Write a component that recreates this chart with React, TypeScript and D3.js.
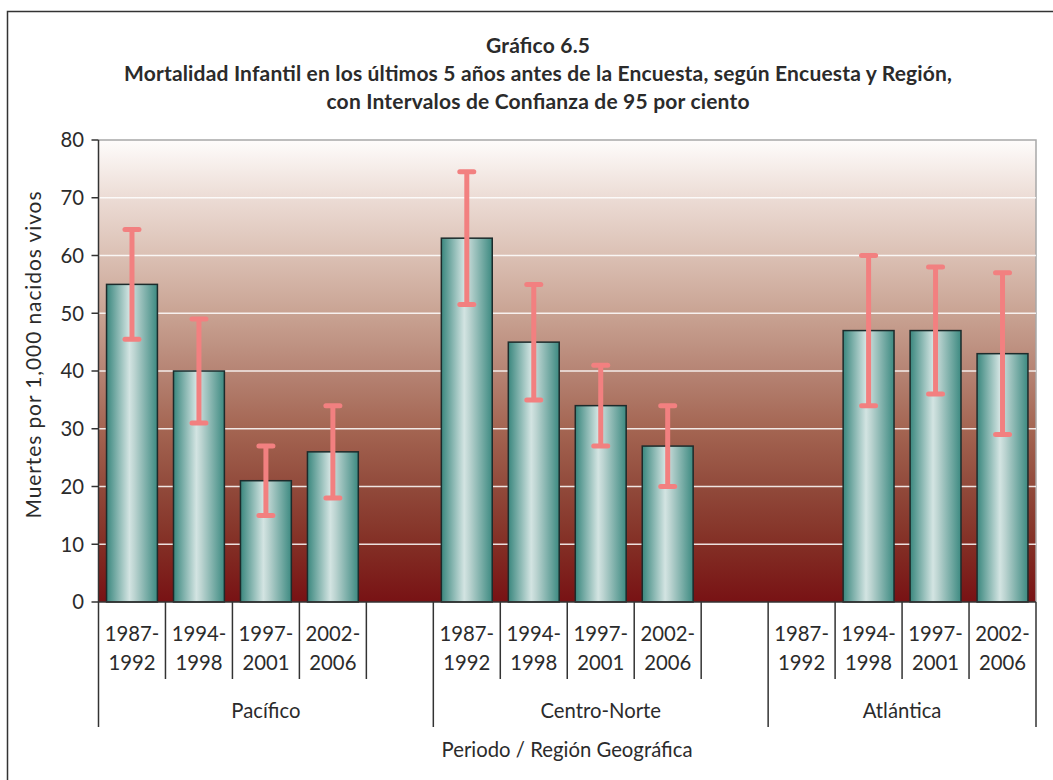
import React from "react";
import * as d3 from "d3";

const titleLines = [
  "Gráfico 6.5",
  "Mortalidad Infantil en los últimos 5 años antes de la Encuesta, según Encuesta y Región,",
  "con Intervalos de Confianza de 95 por ciento",
];
const titleWidths = [104, 828, 423];
const regions = ["Pacífico", "Centro-Norte", "Atlántica"];
const periods = ["1987-1992", "1994-1998", "1997-2001", "2002-2006"];
const pacificoValues = [55, 40, 21, 26];
const pacificoLow = [45.5, 31, 15, 18];
const pacificoHigh = [64.5, 49, 27, 34];
const centroNorteValues = [63, 45, 34, 27];
const centroNorteLow = [51.5, 35, 27, 20];
const centroNorteHigh = [74.5, 55, 41, 34];
const atlanticaValues = [null, 47, 47, 43];
const atlanticaLow = [null, 34, 36, 29];
const atlanticaHigh = [null, 60, 58, 57];
const yTicks = [0, 10, 20, 30, 40, 50, 60, 70, 80];
const yTitle = "Muertes por 1,000 nacidos vivos";
const xTitle = "Periodo / Región Geográfica";

type Slot = {
  key: string;
  region: string;
  period: string | null;
  value: number | null;
  low: number | null;
  high: number | null;
};

const regionData = [
  { name: regions[0], v: pacificoValues, lo: pacificoLow, hi: pacificoHigh, blank: true },
  { name: regions[1], v: centroNorteValues, lo: centroNorteLow, hi: centroNorteHigh, blank: true },
  { name: regions[2], v: atlanticaValues, lo: atlanticaLow, hi: atlanticaHigh, blank: false },
];

const slots: Slot[] = [];
regionData.forEach((r) => {
  periods.forEach((p, i) => {
    slots.push({ key: r.name + "|" + p, region: r.name, period: p, value: r.v[i], low: r.lo[i], high: r.hi[i] });
  });
  if (r.blank) slots.push({ key: r.name + "|blank", region: r.name, period: null, value: null, low: null, high: null });
});

const W = 1053;
const H = 780;
const plotLeft = 98.5;
const plotRight = 1036;
const plotTop = 140;
const plotBottom = 602;
const FONT = "Lato, 'Open Sans', sans-serif";
const TEXT = "#2b2b2b";
const LABEL_SIZE = 20.3;

export default function App() {
  const y = d3.scaleLinear().domain([0, 80]).range([plotBottom, plotTop]);
  const x = d3
    .scaleBand<string>()
    .domain(slots.map((s) => s.key))
    .range([plotLeft, plotRight])
    .paddingInner(0.24)
    .paddingOuter(0.12);
  const step = x.step();
  const bw = x.bandwidth();
  const slotStart = (k: string) => (x(k) as number) - step * 0.12;

  const boundaries: { x: number; long: boolean }[] = [];
  slots.forEach((s, i) => {
    const prev = i > 0 ? slots[i - 1] : null;
    boundaries.push({ x: slotStart(s.key), long: !prev || prev.region !== s.region });
  });
  boundaries.push({ x: slotStart(slots[slots.length - 1].key) + step, long: true });

  const groupCenters = regions.map((r) => {
    const rs = slots.filter((s) => s.region === r);
    const a = slotStart(rs[0].key);
    const b = slotStart(rs[rs.length - 1].key) + step;
    return { r, cx: (a + b) / 2 };
  });

  const errColor = "#f28080";

  return (
    <svg width={W} height={H} style={{ position: "absolute", left: 0, top: 0, background: "#fff" }} fontFamily={FONT}>
      <defs>
        <linearGradient id="bg" x1="0" y1="0" x2="0" y2="1">
          <stop offset="0" stopColor="#fefcfb" />
          <stop offset="0.125" stopColor="#ecdcd5" />
          <stop offset="0.25" stopColor="#dbc0b4" />
          <stop offset="0.375" stopColor="#c9a393" />
          <stop offset="0.5" stopColor="#b68474" />
          <stop offset="0.625" stopColor="#a46552" />
          <stop offset="0.75" stopColor="#914a3b" />
          <stop offset="0.875" stopColor="#832f25" />
          <stop offset="1" stopColor="#781214" />
        </linearGradient>
        <linearGradient id="bar" x1="0" y1="0" x2="1" y2="0">
          <stop offset="0" stopColor="#3a877e" />
          <stop offset="0.45" stopColor="#d3e4e2" />
          <stop offset="0.55" stopColor="#bcd4d1" />
          <stop offset="1" stopColor="#3d8a81" />
        </linearGradient>
      </defs>

      <rect x={7.5} y={11.5} width={1100} height={900} fill="none" stroke="#333" strokeWidth={1.5} />

      {titleLines.map((t, i) => (
        <text
          key={i}
          x={538}
          y={53 + i * 28}
          textAnchor="middle"
          fontWeight="bold"
          fontSize={21}
          fill={TEXT}
          textLength={titleWidths[i]}
          lengthAdjust="spacing"
        >
          {t}
        </text>
      ))}

      <rect x={plotLeft} y={plotTop} width={plotRight - plotLeft} height={plotBottom - plotTop} fill="url(#bg)" />
      <path d={`M${plotLeft},${plotTop}H${plotRight}V${plotBottom}`} fill="none" stroke="#a8a8a8" strokeWidth={1.5} />

      {yTicks
        .filter((t) => t > 0 && t < 80)
        .map((t) => (
          <line key={t} x1={plotLeft} x2={plotRight} y1={y(t)} y2={y(t)} stroke="#fff" strokeOpacity={0.85} strokeWidth={1.5} />
        ))}

      {slots
        .filter((s) => s.value !== null)
        .map((s) => (
          <rect
            key={s.key}
            x={x(s.key)}
            y={y(s.value as number)}
            width={bw}
            height={plotBottom - y(s.value as number)}
            fill="url(#bar)"
            stroke="#1c2b2b"
            strokeWidth={1.5}
          />
        ))}

      {slots
        .filter((s) => s.value !== null)
        .map((s) => {
          const cx = (x(s.key) as number) + bw / 2;
          return (
            <g key={s.key} stroke={errColor} strokeWidth={5}>
              <line x1={cx} x2={cx} y1={y(s.low as number)} y2={y(s.high as number)} />
              <line x1={cx - 7} x2={cx + 7} y1={y(s.high as number)} y2={y(s.high as number)} strokeLinecap="round" />
              <line x1={cx - 7} x2={cx + 7} y1={y(s.low as number)} y2={y(s.low as number)} strokeLinecap="round" />
            </g>
          );
        })}

      <line x1={plotLeft} x2={plotLeft} y1={plotTop} y2={plotBottom} stroke="#333" strokeWidth={1.5} />
      <line x1={plotLeft} x2={plotRight} y1={plotBottom} y2={plotBottom} stroke="#333" strokeWidth={1.5} />
      {yTicks.map((t) => (
        <g key={t}>
          <line x1={plotLeft - 7} x2={plotLeft} y1={y(t)} y2={y(t)} stroke="#333" strokeWidth={1.5} />
          <text x={84} y={y(t)} dy="0.36em" textAnchor="end" fontSize={LABEL_SIZE} fill={TEXT}>
            {t}
          </text>
        </g>
      ))}

      {boundaries.map((b, i) => (
        <line key={i} x1={b.x} x2={b.x} y1={plotBottom} y2={b.long ? 727 : 679} stroke="#333" strokeWidth={1.5} />
      ))}

      {slots
        .filter((s) => s.period)
        .map((s) => {
          const cx = slotStart(s.key) + step / 2;
          const [a, b] = (s.period as string).split("-");
          return (
            <text key={s.key} textAnchor="middle" fontSize={LABEL_SIZE} fill={TEXT}>
              <tspan x={cx} y={641}>{a + "-"}</tspan>
              <tspan x={cx} y={670}>{b}</tspan>
            </text>
          );
        })}

      {groupCenters.map((g) => (
        <text key={g.r} x={g.cx} y={718} textAnchor="middle" fontSize={LABEL_SIZE} fill={TEXT}>
          {g.r}
        </text>
      ))}

      <text x={567} y={757} textAnchor="middle" fontSize={LABEL_SIZE} fill={TEXT} textLength={251} lengthAdjust="spacing">
        {xTitle}
      </text>
      <text
        transform={`translate(41,355) rotate(-90)`}
        textAnchor="middle"
        fontSize={21}
        fill={TEXT}
        textLength={327}
        lengthAdjust="spacing"
      >
        {yTitle}
      </text>
    </svg>
  );
}
